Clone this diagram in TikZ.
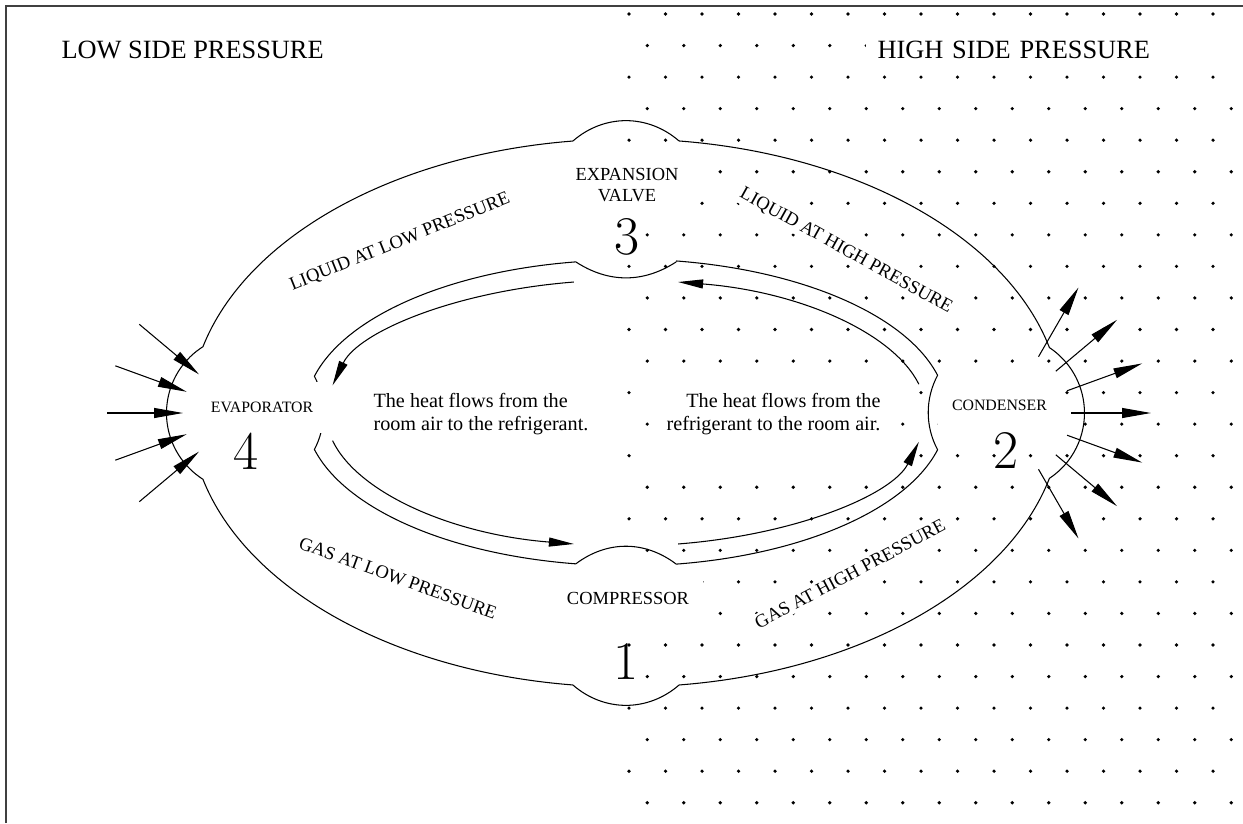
\documentclass[tikz,border=0pt]{standalone}
\usepackage{fontspec}
\newfontfamily\tnr{Liberation Serif}
\usepackage{tikz}
\usetikzlibrary{arrows.meta}

\begin{document}
\begin{tikzpicture}[x=0.2mm, y=0.2mm, line width=0.6pt,
  tube/.style={draw, line join=round},
  flow/.style={-{Triangle[length=5mm, width=1.8mm]}},
  heat/.style={-{Triangle[length=5.8mm, width=2mm]}},
  title/.style={font=\tnr\fontsize{15}{18}\selectfont, fill=white, inner xsep=2.4mm, inner ysep=1.6mm},
  part/.style={font=\tnr\fontsize{10.5}{12.2}\selectfont, fill=white, align=center, inner xsep=2.8mm, inner ysep=4mm},
  small/.style={font=\tnr\fontsize{9}{11}\selectfont},
  phase/.style={font=\tnr\fontsize{10.6}{12}\selectfont, fill=white, inner sep=1.5pt},
  heattext/.style={font=\tnr\fontsize{11.5}{13.1}\selectfont, fill=white, inner xsep=3.4mm, inner ysep=5mm},
  digit/.style={font=\fontsize{31}{31}\selectfont, inner sep=0pt}]
  \useasboundingbox (0,0) rectangle (1243,823);
  \draw[line width=1pt, black!75] (6,0) -- (6,817) -- (1243,817);

  \coordinate (C)    at (626,410);
  \coordinate (evap) at (245,410);
  \coordinate (cond) at (1006,410);

  % high side dots
  \foreach \r in {0,...,25}{
    \pgfmathsetmacro{\yy}{809-31.55*\r}
    \pgfmathsetmacro{\xo}{629+18.25*mod(\r,2)}
    \foreach \k in {0,...,16}
      \fill ({\xo+36.5*\k},\yy) circle[radius=0.36mm];
  }

  % outer wall
  \draw[tube] ([shift={(83:436 and 274)}]C)
      to[bend right=41] ([shift={(97:436 and 274)}]C)
      arc[start angle=97, end angle=166, x radius=87.2mm, y radius=54.8mm]
      arc[start angle=122.4, end angle=237.6, radius=15.7mm]
      arc[start angle=194, end angle=263, x radius=87.2mm, y radius=54.8mm]
      to[bend right=41] ([shift={(277:436 and 274)}]C)
      arc[start angle=277, end angle=346.2, x radius=87.2mm, y radius=54.8mm]
      arc[start angle=-56.4, end angle=56.4, radius=15.7mm]
      arc[start angle=13.8, end angle=83, x radius=87.2mm, y radius=54.8mm];
  % inner wall
  \draw[tube] ([shift={(81:321 and 153)}]C)
      to[bend left=33] ([shift={(99:321 and 153)}]C)
      arc[start angle=99, end angle=166.1, x radius=64.2mm, y radius=30.6mm]
      arc[start angle=27.8, end angle=-27.8, radius=15.7mm]
      arc[start angle=193.9, end angle=261, x radius=64.2mm, y radius=30.6mm]
      to[bend left=37] ([shift={(279:321 and 153)}]C)
      arc[start angle=279, end angle=346.1, x radius=64.2mm, y radius=30.6mm]
      arc[start angle=208.3, end angle=151.7, radius=15.7mm]
      arc[start angle=13.9, end angle=81, x radius=64.2mm, y radius=30.6mm];

  % refrigerant flow
  \draw[flow] ([shift={(100:300 and 133)}]C) arc[start angle=100, end angle=168, x radius=60mm, y radius=26.6mm];
  \draw[flow] ([shift={(192:300 and 133)}]C) arc[start angle=192, end angle=260, x radius=60mm, y radius=26.6mm];
  \draw[flow] ([shift={(280:300 and 133)}]C) arc[start angle=280, end angle=347.5, x radius=60mm, y radius=26.6mm];
  \draw[flow] ([shift={(12.5:300 and 133)}]C) arc[start angle=12.5, end angle=80, x radius=60mm, y radius=26.6mm];

  % heat in and out
  \path[heat] ([shift={(140:138)}]evap) edge ([shift={(140:60)}]evap)
              ([shift={(160:138)}]evap) edge ([shift={(160:62)}]evap)
              ([shift={(180:138)}]evap) edge ([shift={(180:62)}]evap)
              ([shift={(200:138)}]evap) edge ([shift={(200:62)}]evap)
              ([shift={(220:138)}]evap) edge ([shift={(220:60)}]evap)
              ([shift={(60:65)}]cond)   edge ([shift={(60:145)}]cond)
              ([shift={(40:65)}]cond)   edge ([shift={(40:145)}]cond)
              ([shift={(20:65)}]cond)   edge ([shift={(20:145)}]cond)
              ([shift={(0:65)}]cond)    edge ([shift={(0:145)}]cond)
              ([shift={(-20:65)}]cond)  edge ([shift={(-20:145)}]cond)
              ([shift={(-40:65)}]cond)  edge ([shift={(-40:145)}]cond)
              ([shift={(-60:65)}]cond)  edge ([shift={(-60:145)}]cond);

  \node[title, anchor=base west] (low)  at (49,764) {LOW SIDE PRESSURE};
  \node[title, anchor=base west, text width=7.2cm, align=left] (high) at (865,764) {HIGH SIDE PRESSURE};

  \node[phase, rotate=22]  (liq_low)  at (400,581) {LIQUID AT LOW PRESSURE};
  \node[phase, rotate=-29] (liq_high) at (846,572) {LIQUID AT HIGH PRESSURE};
  \node[phase, rotate=-20] (gas_low)  at (398,245) {GAS AT LOW PRESSURE};
  \node[phase, rotate=28]  (gas_high) at (850,249) {GAS AT HIGH PRESSURE};

  \node[part]        (valve)     at (627,638)   {EXPANSION\\VALVE};
  \node[part, small] (evap_name) at (262,415.5) {EVAPORATOR};
  \node[part, small] (cond_name) at (999.5,418) {CONDENSER};
  \node[part]        (comp)      at (628,225)   {COMPRESSOR};

  \node[heattext, align=left, anchor=west]  (heat_in)  at (356,409) {The heat flows from the\\room air to the refrigerant.};
  \node[heattext, align=right, anchor=east] (heat_out) at (898,409) {The heat flows from the\\refrigerant to the room air.};

  \node[digit] (n_1) at (626,161.5) {1};
  \node[digit] (n_2) at (1006,373)  {2};
  \node[digit] (n_3) at (627,586.5) {3};
  \node[digit] (n_4) at (246,372)   {4};
\end{tikzpicture}
\end{document}
